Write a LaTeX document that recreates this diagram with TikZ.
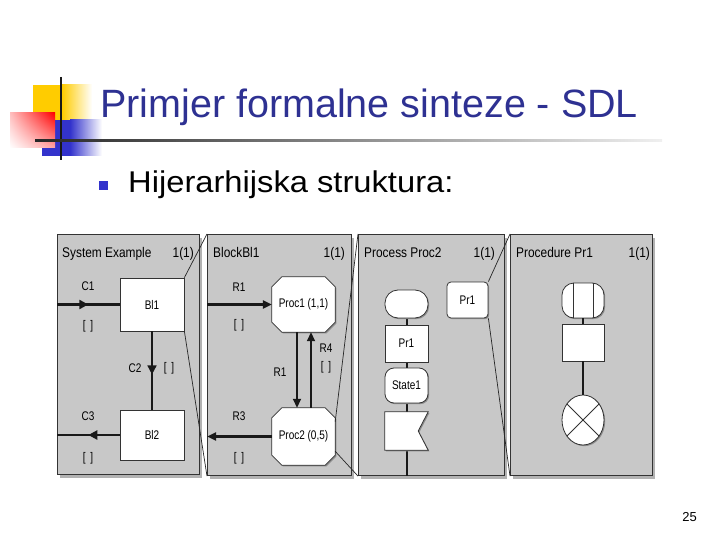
\documentclass[tikz,border=0pt]{standalone}
\usepackage{fontspec}
\setmainfont{Liberation Sans}
\usetikzlibrary{shapes.misc,shapes.geometric,arrows.meta,decorations.markings,shadows,shadings,calc}
\definecolor{titleblue}{RGB}{46,49,146}
\definecolor{logoyellow}{RGB}{255,204,0}
\definecolor{logoblue}{RGB}{51,51,204}
\definecolor{panelgray}{RGB}{200,200,200}
\newcommand\octapath[1]{%
  \draw[sym] ($(#1.north west)+(10,0)$) -- ($(#1.north east)+(-10,0)$) -- ($(#1.north east)+(0,10)$)
    -- ($(#1.south east)+(0,-10)$) -- ($(#1.south east)+(-10,0)$) -- ($(#1.south west)+(10,0)$)
    -- ($(#1.south west)+(0,-10)$) -- ($(#1.north west)+(0,10)$) -- cycle;}
\newcommand\sigset{[\hspace{6pt}]}
\begin{document}
\begin{tikzpicture}[x=1pt,y=-1pt,
  panel/.style={draw=black!80, line width=1.1pt, fill=panelgray, anchor=north west, inner sep=0pt,
    drop shadow={shadow xshift=2.5pt, shadow yshift=-3pt, fill=black!30, opacity=1}},
  sym/.style={draw=black!80, line width=0.8pt, fill=white, inner sep=0pt,
    drop shadow={shadow xshift=1.2pt, shadow yshift=-1.2pt, fill=black!45, opacity=1}},
  lbl/.style={font=\fontsize{12.5}{13}\selectfont, text=black, xscale=0.8, inner sep=0pt},
  ptitle/.style={font=\fontsize{14}{15}\selectfont, text=black, xscale=0.85, inner sep=0pt},
  chan/.style={line width=2.6pt, draw=black!90},
  route/.style={line width=1.7pt, draw=black!90},
  flow/.style={line width=2pt, draw=black!90},
  zoomline/.style={line width=0.7pt, draw=black!85},
  midarrow/.style={postaction=decorate, decoration={markings,
    mark=at position #1 with {\arrow{Triangle[length=9pt,width=9pt]}}}},
  endarrow/.style={-{Triangle[length=9pt,width=8pt]}}
]
\useasboundingbox (0,0) rectangle (720,540);

% ---------- logo ----------
\fill[logoyellow] (33,85) rectangle (62,120);
\shade[left color=logoyellow, right color=white] (62,85) rectangle (92,120);
\fill[logoblue] (42,120) rectangle (70,156);
\shade[left color=logoblue, right color=white] (70,120) rectangle (102,156);
\shade[upper left=red!25, upper right=red, lower left=white, lower right=red!35] (10,113) rectangle (55,148);
\draw[line width=2pt, black!90] (61,77) -- (61,160);
\shade[left color=black!85, right color=black!6] (35,139.5) rectangle (662,141.5);

% ---------- title & bullet ----------
\node[anchor=base west, inner sep=0pt, text=titleblue, font=\fontsize{39.5}{40}\selectfont] (title) at (100,118) {Primjer formalne sinteze - SDL};
\node[fill=logoblue, minimum size=9, inner sep=0pt] (bullet) at (103.5,186) {};
\node[anchor=base west, inner sep=0pt, font=\fontsize{30}{31}\selectfont, xscale=1.09] (sub) at (128,193) {Hijerarhijska struktura:};
\node[anchor=base east, inner sep=0pt, font=\fontsize{13}{14}\selectfont] (pg) at (697,521) {25};

% ---------- panels ----------
\node[panel, minimum width=142, minimum height=240] (P1) at (57,234) {};
\node[panel, minimum width=144, minimum height=241] (P2) at (207,234) {};
\node[panel, minimum width=146, minimum height=241] (P3) at (358,234) {};
\node[panel, minimum width=142, minimum height=241] (P4) at (510,234) {};

% panel titles
\node[ptitle, anchor=base west] (t1) at (62,257) {System Example};
\node[ptitle, anchor=base east] (n1) at (194,257) {1(1)};
\node[ptitle, anchor=base west] (t2) at (213,257) {BlockBl1};
\node[ptitle, anchor=base east] (n2) at (345,257) {1(1)};
\node[ptitle, anchor=base west] (t3) at (364,257) {Process Proc2};
\node[ptitle, anchor=base east] (n3) at (495,257) {1(1)};
\node[ptitle, anchor=base west] (t4) at (516,257) {Procedure Pr1};
\node[ptitle, anchor=base east] (n4) at (650,257) {1(1)};

% ---------- panel 1 : system ----------
\node[sym, minimum width=64, minimum height=53] (Bl1) at (152,304.5) {};
\node[lbl] at (Bl1) {Bl1};
\node[sym, minimum width=64, minimum height=50] (Bl2) at (152,435) {};
\node[lbl] at (Bl2) {Bl2};
\coordinate (c1s) at (P1.west |- Bl1.west);
\coordinate (c3e) at (P1.west |- Bl2.west);
\draw[chan, midarrow=0.5] (c1s) -- (Bl1.west);
\draw[route, midarrow=0.55] (Bl1.south) -- (Bl2.north);
\draw[chan, midarrow=0.5] (Bl2.west) -- (c3e);
\node[lbl] at (88,286) {C1};
\node[lbl] at (88,326) {\sigset};
\node[lbl] at (135,368) {C2};
\node[lbl] at (169,368) {\sigset};
\node[lbl] at (88,416) {C3};
\node[lbl] at (88,458) {\sigset};

% ---------- panel 2 : block ----------
\node[minimum width=63, minimum height=55, inner sep=0pt] (Proc1) at (303.5,304.5) {};
\octapath{Proc1}
\node[lbl] at (Proc1) {Proc1 (1,1)};
\node[minimum width=63, minimum height=57, inner sep=0pt] (Proc2) at (303.5,436.5) {};
\octapath{Proc2}
\node[lbl] at (Proc2) {Proc2 (0,5)};
\coordinate (r1s) at (P2.west |- Proc1.west);
\coordinate (r3e) at (P2.west |- Proc2.west);
\draw[chan, endarrow] (r1s) -- (Proc1.west);
\draw[route, endarrow] ([xshift=-6.5pt]Proc1.south) -- ([xshift=-6.5pt]Proc2.north);
\draw[route, endarrow] ([xshift=7.5pt]Proc2.north) -- ([xshift=7.5pt]Proc1.south);
\draw[chan, endarrow] (Proc2.west) -- (r3e);
\node[lbl] at (239,287) {R1};
\node[lbl] at (239,325) {\sigset};
\node[lbl] at (280,372) {R1};
\node[lbl] at (326,348) {R4};
\node[lbl] at (326,367) {\sigset};
\node[lbl] at (239,416) {R3};
\node[lbl] at (239,458) {\sigset};

% ---------- panel 3 : process ----------
\node[minimum width=43, minimum height=38, inner sep=0pt] (inp) at (406.5,431) {};
\coordinate (pend) at (P3.south -| inp.south);
\draw[flow] (406.5,318) -- (pend);
\node[sym, rounded corners=13pt, minimum width=43, minimum height=28] (start) at (406.5,304) {};
\node[sym, minimum width=43, minimum height=37] (call) at (406.5,343.5) {};
\node[lbl] at (call) {Pr1};
\node[sym, rounded corners=9pt, minimum width=43, minimum height=35] (state) at (406.5,385.5) {};
\node[lbl] at (state) {State1};
\draw[sym] (inp.north west) -- (inp.north east) -- ($(inp.east)+(-10,0)$) -- (inp.south east) -- (inp.south west) -- cycle;
\node[sym, rounded corners=4pt, minimum width=41, minimum height=36] (pref) at (467.5,300) {};
\node[lbl] at (pref) {Pr1};

% ---------- panel 4 : procedure ----------
\node[sym, rounded corners=12pt, minimum width=42, minimum height=35] (pstart) at (583,300.5) {};
\draw[line width=0.8pt, black!80] ([xshift=-10pt]pstart.north) -- ([xshift=-10pt]pstart.south);
\draw[line width=0.8pt, black!80] ([xshift=10pt]pstart.north) -- ([xshift=10pt]pstart.south);
\node[sym, minimum width=42, minimum height=37] (task) at (583,342.5) {};
\node[sym, ellipse, minimum width=42, minimum height=50] (stop) at (583,420) {};
\draw[line width=0.8pt, black!80] (stop.45) -- (stop.225);
\draw[line width=0.8pt, black!80] (stop.135) -- (stop.315);
\draw[flow, line width=2.5pt] (pstart.south) -- (task.north);
\draw[flow, line width=2.5pt] (task.south) -- (stop.north);

% ---------- zoom lines ----------
\draw[zoomline] (Bl1.north east) -- (P2.north west);
\draw[zoomline] (Bl1.south east) -- (P2.south west);
\draw[zoomline] (Proc2.25) -- (P3.north west);
\draw[zoomline] (Proc2.-25) -- (P3.south west);
\draw[zoomline] (pref.north east) -- (P4.north west);
\draw[zoomline] (pref.south east) -- (P4.south west);
\end{tikzpicture}
\end{document}
